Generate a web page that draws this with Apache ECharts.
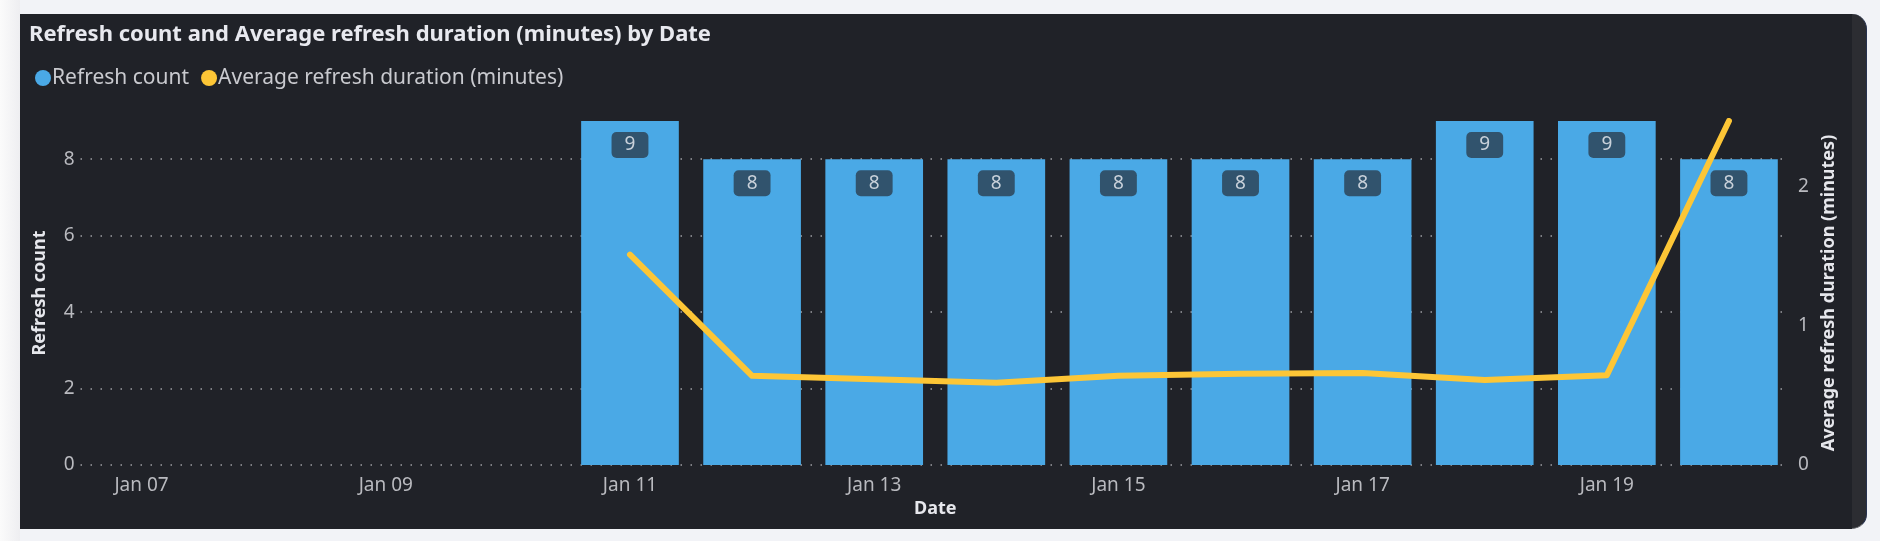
<!DOCTYPE html>
<html>
<head>
<meta charset="utf-8">
<script src="https://cdn.jsdelivr.net/npm/echarts@6/dist/echarts.min.js"></script>
<style>
  html, body { margin: 0; padding: 0; width: 1880px; height: 541px; overflow: hidden; background: #f2f3f7; }
  #shadow { position: absolute; left: 0; top: 0; width: 20px; height: 541px; background: linear-gradient(to right, #fbfbfb, #eeeef1); }
  #card { position: absolute; left: 20px; top: 14px; width: 1847px; height: 515px; background: #2c2d32; border-radius: 0 15px 15px 0; border-right: 1px solid #27324f; border-bottom: 1px solid #6e7075; box-sizing: border-box; }
  #cardMain { position: absolute; left: 20px; top: 14px; width: 1832px; height: 515px; background: #202228; }
  #chart { position: absolute; left: 0; top: 0; width: 1880px; height: 541px; }
</style>
</head>
<body>
<div id="shadow"></div>
<div id="card"></div>
<div id="cardMain"></div>
<div id="chart"></div>
<script>
// ---- data ----
const categories = ['Jan 07','Jan 08','Jan 09','Jan 10','Jan 11','Jan 12','Jan 13','Jan 14','Jan 15','Jan 16','Jan 17','Jan 18','Jan 19','Jan 20'];
const refreshCount = [null, null, null, null, 9, 8, 8, 8, 8, 8, 8, 9, 9, 8];
const avgDuration = [null, null, null, null, 1.51, 0.64, 0.615, 0.59, 0.64, 0.655, 0.66, 0.61, 0.645, 2.47];
const countAxisMax = 9;
const countAxisStep = 2;
const durationAxisMax = 2.47;
const durationAxisStep = 1;

const FONT = 'Noto Sans';
const chart = echarts.init(document.getElementById('chart'), null, { renderer: 'canvas', width: 1880, height: 541 });

chart.setOption({
  animation: false,
  backgroundColor: 'transparent',
  textStyle: { fontFamily: FONT },
  title: {
    text: 'Refresh count and Average refresh duration (minutes) by Date',
    left: 24, top: 16,
    textStyle: { fontFamily: FONT, fontWeight: 'bold', fontSize: 22, color: '#e8e9ef', lineHeight: 28 }
  },
  legend: {
    left: 30, top: 61,
    icon: 'circle',
    itemWidth: 16, itemHeight: 16,
    itemGap: 12,
    textStyle: { fontFamily: FONT, fontSize: 21, color: '#c9cacf', lineHeight: 24, padding: [0, 0, 0, -4] },
    data: ['Refresh count', 'Average refresh duration (minutes)']
  },
  grid: { left: 80.5, right: 90, top: 121, bottom: 76, containLabel: false },
  xAxis: {
    type: 'category',
    data: categories,
    boundaryGap: true,
    name: 'Date',
    nameLocation: 'middle',
    nameGap: 33,
    nameTextStyle: { fontFamily: FONT, fontWeight: 'bold', fontSize: 18, color: '#e6e7ec' },
    axisLine: { show: false },
    axisTick: { show: false },
    axisLabel: { interval: 1, margin: 11, fontFamily: FONT, fontSize: 19, color: '#b9babf' }
  },
  yAxis: [
    {
      type: 'value',
      min: 0, max: countAxisMax, interval: countAxisStep,
      name: 'Refresh count',
      nameLocation: 'middle',
      nameRotate: 90,
      nameGap: 32,
      nameTextStyle: { fontFamily: FONT, fontWeight: 'bold', fontSize: 18, color: '#e6e7ec' },
      axisLine: { show: false },
      axisTick: { show: false },
      axisLabel: { margin: 6, fontFamily: FONT, fontSize: 19, color: '#b9babf', showMaxLabel: false },
      splitLine: { show: true, showMaxLine: false, lineStyle: { color: '#9c9ea3', width: 1.5, type: [1.5, 8.5] } }
    },
    {
      type: 'value',
      position: 'right',
      min: 0, max: durationAxisMax, interval: durationAxisStep,
      name: 'Average refresh duration (minutes)',
      nameLocation: 'middle',
      nameRotate: 90,
      nameGap: 28,
      nameTextStyle: { fontFamily: FONT, fontWeight: 'bold', fontSize: 18, color: '#e6e7ec' },
      axisLine: { show: false },
      axisTick: { show: false },
      axisLabel: { margin: 8, fontFamily: FONT, fontSize: 19, color: '#b9babf', showMaxLabel: false },
      splitLine: { show: false }
    }
  ],
  series: [
    {
      name: 'Refresh count',
      type: 'bar',
      data: refreshCount,
      barWidth: '80%',
      itemStyle: { color: '#4aa9e6' },
      label: {
        show: true,
        position: 'insideTop',
        distance: 11,
        fontFamily: FONT,
        fontSize: 19,
        lineHeight: 20,
        color: '#c9d1da',
        backgroundColor: '#31536d',
        borderRadius: 5,
        padding: [3, 13, 3, 13]
      }
    },
    {
      name: 'Average refresh duration (minutes)',
      type: 'line',
      yAxisIndex: 1,
      data: avgDuration,
      showSymbol: false,
      symbol: 'none',
      color: '#fdc636',
      lineStyle: { color: '#fdc636', width: 6, cap: 'round', join: 'round' },
      z: 5
    }
  ]
});
</script>
</body>
</html>
